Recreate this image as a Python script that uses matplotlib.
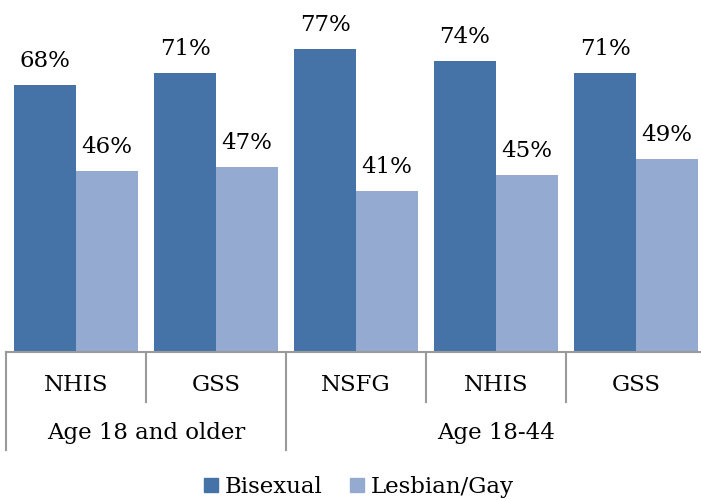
import numpy as np
import matplotlib
matplotlib.use('Agg')
import matplotlib.pyplot as plt
from matplotlib.patches import Patch
import matplotlib.transforms as mtransforms

# data
surveys = ['NHIS', 'GSS', 'NSFG', 'NHIS', 'GSS']
groups = ['Age 18 and older', 'Age 18-44']
group_spans = [(0, 1), (2, 4)]
bisexual = [68, 71, 77, 74, 71]
lesbian_gay = [46, 47, 41, 45, 49]

dark = '#4673A7'
light = '#95AAD1'
grid_col = '#9a9a9a'

plt.rcParams['font.family'] = ['DejaVu Serif']
fs = 16.5

W, H = 701, 500
fig = plt.figure(figsize=(W / 100, H / 100), dpi=100)
# plot area: baseline at y=352px, 140px per category starting at x=6px
ax = fig.add_axes([6 / W, (H - 352) / H, 700 / W, 352 / H])

x = np.arange(len(surveys))
bw = 62 / 140
ax.bar(x - bw / 2, bisexual, bw, color=dark)
ax.bar(x + bw / 2, lesbian_gay, bw, color=light)

for xi, v in zip(x, bisexual):
    ax.annotate(f'{v}%', (xi - bw / 2, v), xytext=(0, 13), textcoords='offset points',
                ha='center', va='baseline', fontsize=fs)
for xi, v in zip(x, lesbian_gay):
    ax.annotate(f'{v}%', (xi + bw / 2, v), xytext=(0, 13), textcoords='offset points',
                ha='center', va='baseline', fontsize=fs)

ax.set_xlim(-0.5, len(surveys) - 0.5)
ax.set_ylim(0, 352 / 3.93)
ax.set_xticks([])
ax.set_yticks([])
for s in ['top', 'left', 'right']:
    ax.spines[s].set_visible(False)
ax.spines['bottom'].set_color(grid_col)
ax.spines['bottom'].set_linewidth(1.5)

# two-level category axis
trans = mtransforms.blended_transform_factory(ax.transData, fig.transFigure)
y0 = (H - 352) / H
y_short = (H - 402) / H
y_long = (H - 450) / H
outer = [-0.5] + [b + 0.5 for a, b in group_spans]
for b in np.arange(-0.5, len(surveys)):
    y_end = y_long if b in outer else y_short
    ax.plot([b, b], [y0, y_end], transform=trans, color=grid_col, lw=1.5, clip_on=False)

for xi, name in zip(x, surveys):
    ax.text(xi, (H - 385) / H, name, transform=trans, ha='center', va='center', fontsize=fs)
for (a, b), g in zip(group_spans, groups):
    ax.text((a + b) / 2, (H - 433) / H, g, transform=trans, ha='center', va='center', fontsize=fs)

handles = [Patch(color=dark, label='Bisexual'), Patch(color=light, label='Lesbian/Gay')]
fig.legend(handles=handles, loc='center', bbox_to_anchor=(359 / W, (H - 487) / H), ncol=2,
           frameon=False, fontsize=fs, handlelength=0.6, handleheight=0.6,
           handletextpad=0.3, columnspacing=1.2)

fig.savefig('out.png', dpi=100)
